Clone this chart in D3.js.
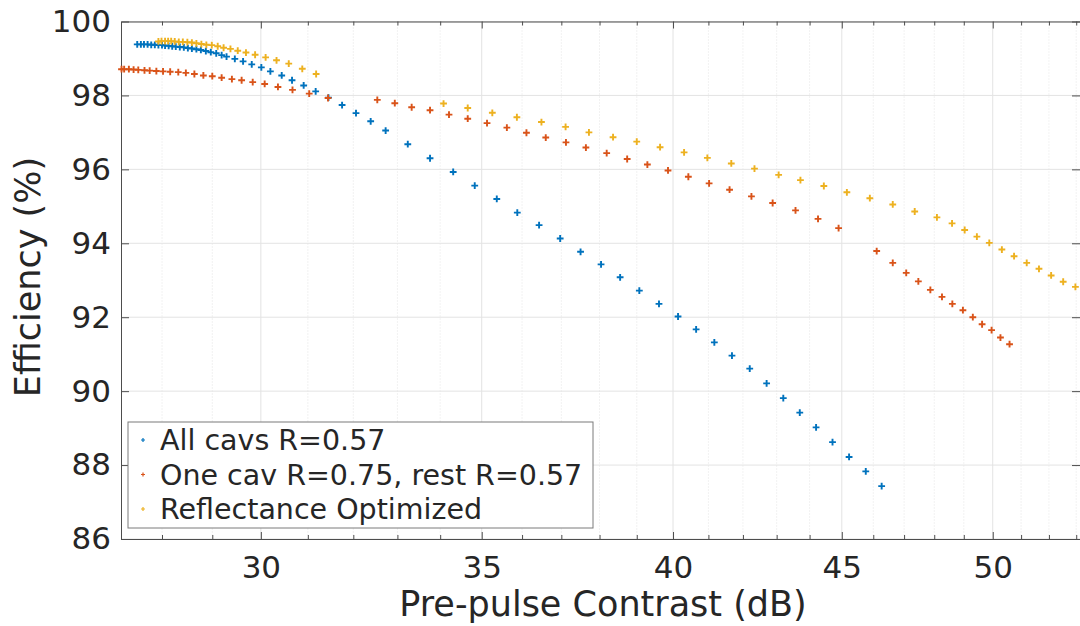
<!DOCTYPE html>
<html>
<head>
<meta charset="utf-8">
<script src="https://cdn.jsdelivr.net/npm/d3@7"></script>
<style>
  body { margin: 0; background: #fff; }
  text { font-family: "DejaVu Sans", sans-serif; fill: #262626; }
</style>
</head>
<body>
<svg id="chart"></svg>
<script>
// values (x in dB, y in %)
const allCavsX = [27.52, 27.59, 27.65, 27.72, 27.79, 27.86, 27.93, 28.00, 28.06, 28.13, 28.20, 28.27, 28.35, 28.43, 28.51, 28.59, 28.68, 28.77, 28.87, 28.97, 29.08, 29.19, 29.29, 29.46, 29.63, 29.81, 30.01, 30.20, 30.44, 30.66, 30.91, 31.17, 31.45, 31.75, 32.06, 32.39, 32.73, 33.24, 33.76, 34.31, 34.83, 35.37, 35.88, 36.43, 36.97, 37.50, 38.04, 38.55, 39.07, 39.61, 40.14, 40.65, 41.17, 41.68, 42.20, 42.70, 43.20, 43.70, 44.20, 44.71, 45.23, 45.76, 46.27];
const allCavsY = [99.38, 99.38, 99.38, 99.38, 99.37, 99.37, 99.36, 99.36, 99.35, 99.34, 99.33, 99.32, 99.31, 99.30, 99.28, 99.27, 99.25, 99.23, 99.20, 99.17, 99.14, 99.09, 99.05, 98.99, 98.92, 98.84, 98.76, 98.65, 98.54, 98.41, 98.27, 98.11, 97.94, 97.74, 97.52, 97.30, 97.05, 96.68, 96.30, 95.93, 95.56, 95.20, 94.83, 94.49, 94.13, 93.77, 93.43, 93.08, 92.72, 92.36, 92.02, 91.67, 91.32, 90.96, 90.61, 90.21, 89.81, 89.42, 89.02, 88.62, 88.22, 87.83, 87.43];

const oneCavX = [27.22, 27.27, 27.36, 27.45, 27.54, 27.66, 27.76, 27.89, 28.02, 28.16, 28.32, 28.47, 28.64, 28.82, 29.00, 29.19, 29.40, 29.60, 29.83, 30.08, 30.36, 30.67, 31.03, 31.44, 32.54, 32.94, 33.33, 33.76, 34.21, 34.66, 35.13, 35.62, 36.11, 36.60, 37.12, 37.64, 38.19, 38.74, 39.29, 39.86, 40.43, 41.02, 41.61, 42.25, 42.88, 43.57, 44.26, 44.90, 46.11, 46.63, 47.07, 47.47, 47.87, 48.26, 48.61, 48.97, 49.31, 49.63, 49.96, 50.27, 50.59];
const oneCavY = [98.71, 98.71, 98.71, 98.70, 98.69, 98.68, 98.67, 98.66, 98.65, 98.64, 98.63, 98.61, 98.58, 98.54, 98.52, 98.48, 98.44, 98.41, 98.36, 98.31, 98.23, 98.15, 98.05, 97.93, 97.88, 97.79, 97.68, 97.60, 97.48, 97.37, 97.25, 97.13, 96.99, 96.86, 96.73, 96.59, 96.44, 96.28, 96.13, 95.97, 95.80, 95.62, 95.45, 95.27, 95.09, 94.89, 94.66, 94.41, 93.79, 93.47, 93.20, 92.97, 92.74, 92.55, 92.36, 92.19, 92.00, 91.81, 91.65, 91.45, 91.27];

const optX = [27.93, 27.99, 28.06, 28.12, 28.18, 28.25, 28.33, 28.41, 28.50, 28.59, 28.68, 28.78, 28.88, 28.99, 29.11, 29.23, 29.37, 29.52, 29.69, 29.88, 30.10, 30.33, 30.59, 30.88, 31.18, 34.08, 34.66, 35.26, 35.87, 36.49, 37.11, 37.72, 38.36, 39.00, 39.64, 40.31, 40.97, 41.66, 42.34, 43.06, 43.72, 44.44, 45.16, 45.89, 46.63, 47.35, 48.09, 48.60, 49.03, 49.45, 49.88, 50.32, 50.75, 51.20, 51.64, 52.08, 52.52, 52.97];
const optY = [99.46, 99.47, 99.47, 99.47, 99.47, 99.46, 99.45, 99.45, 99.44, 99.43, 99.41, 99.39, 99.37, 99.36, 99.33, 99.29, 99.26, 99.21, 99.16, 99.10, 99.03, 98.95, 98.86, 98.72, 98.58, 97.78, 97.66, 97.53, 97.41, 97.28, 97.15, 97.00, 96.87, 96.75, 96.60, 96.46, 96.31, 96.16, 96.02, 95.85, 95.71, 95.55, 95.38, 95.22, 95.05, 94.86, 94.70, 94.54, 94.36, 94.18, 94.01, 93.83, 93.65, 93.47, 93.31, 93.13, 92.96, 92.82];

const seriesNames = ["All cavs R=0.57", "One cav R=0.75, rest R=0.57", "Reflectance Optimized"];
const seriesColors = ["#0072BD", "#D95319", "#EDB120"];

const xMajorTicks = [30, 35, 40, 45, 50];
const xMinorTicks = [28, 29, 31, 32, 33, 34, 36, 37, 38, 39, 41, 42, 43, 44, 46, 47, 48, 49, 51, 52, 53];
const yTicks = [86, 88, 90, 92, 94, 96, 98, 100];

const W = 1080, H = 626;
const plotL = 121, plotR = 1080, plotT = 21.5, plotB = 539;

const svg = d3.select("#chart").attr("width", W).attr("height", H);

const x = d3.scaleLog().domain([27.21, 53.14]).range([plotL, plotR]);
const y = d3.scaleLinear().domain([86, 100]).range([plotB, plotT]);

// grid
svg.append("g").selectAll("line").data(xMinorTicks).join("line")
  .attr("x1", d => x(d)).attr("x2", d => x(d))
  .attr("y1", plotT).attr("y2", plotB)
  .attr("stroke", "#dedede").attr("stroke-width", 0.8)
  .attr("stroke-dasharray", "1,2");

svg.append("g").selectAll("line").data(xMajorTicks).join("line")
  .attr("x1", d => x(d)).attr("x2", d => x(d))
  .attr("y1", plotT).attr("y2", plotB)
  .attr("stroke", "#e3e3e3").attr("stroke-width", 1);

svg.append("g").selectAll("line").data(yTicks).join("line")
  .attr("x1", plotL).attr("x2", plotR)
  .attr("y1", d => y(d)).attr("y2", d => y(d))
  .attr("stroke", "#e3e3e3").attr("stroke-width", 1);

// axes (MATLAB style, ticks inside, box on)
const tickColor = "#4d4d4d";
const xBottom = d3.axisBottom(x).tickValues(xMajorTicks).tickFormat(d3.format("d"))
  .tickSizeInner(-7).tickSizeOuter(0).tickPadding(17);
const gx = svg.append("g").attr("transform", `translate(0,${plotB})`).call(xBottom);
gx.select(".domain").attr("stroke", tickColor);
gx.selectAll(".tick line").attr("stroke", tickColor);
gx.selectAll("text").attr("font-size", 31).attr("fill", "#262626").attr("dy", "0.71em");

const gxMinor = svg.append("g").attr("transform", `translate(0,${plotB})`)
  .call(d3.axisBottom(x).tickValues(xMinorTicks).tickFormat("").tickSizeInner(-4).tickSizeOuter(0));
gxMinor.select(".domain").remove();
gxMinor.selectAll(".tick line").attr("stroke", tickColor);

const gxTop = svg.append("g").attr("transform", `translate(0,${plotT})`)
  .call(d3.axisTop(x).tickValues(xMajorTicks).tickFormat("").tickSizeInner(-7).tickSizeOuter(0));
gxTop.select(".domain").attr("stroke", tickColor);
gxTop.selectAll(".tick line").attr("stroke", tickColor);
const gxTopMinor = svg.append("g").attr("transform", `translate(0,${plotT})`)
  .call(d3.axisTop(x).tickValues(xMinorTicks).tickFormat("").tickSizeInner(-4).tickSizeOuter(0));
gxTopMinor.select(".domain").remove();
gxTopMinor.selectAll(".tick line").attr("stroke", tickColor);

const gy = svg.append("g").attr("transform", `translate(${plotL},0)`)
  .call(d3.axisLeft(y).tickValues(yTicks).tickSizeInner(-8).tickSizeOuter(0).tickPadding(10));
gy.select(".domain").attr("stroke", tickColor);
gy.selectAll(".tick line").attr("stroke", tickColor);
gy.selectAll("text").attr("font-size", 31).attr("fill", "#262626");

const gyRight = svg.append("g").attr("transform", `translate(${plotR},0)`)
  .call(d3.axisRight(y).tickValues(yTicks).tickFormat("").tickSizeInner(-8).tickSizeOuter(0));
gyRight.select(".domain").attr("stroke", tickColor);
gyRight.selectAll(".tick line").attr("stroke", tickColor);

// axis labels
svg.append("text").attr("x", 603).attr("y", 616)
  .attr("text-anchor", "middle").attr("font-size", 35)
  .text("Pre-pulse Contrast (dB)");
svg.append("text").attr("transform", "translate(40,277) rotate(-90)")
  .attr("text-anchor", "middle").attr("font-size", 35)
  .text("Efficiency (%)");

// markers
const plus = s => `M${-s},0H${s}M0,${-s}V${s}`;
const series = [
  { xs: allCavsX, ys: allCavsY },
  { xs: oneCavX, ys: oneCavY },
  { xs: optX, ys: optY }
];
series.forEach((s, i) => {
  svg.append("g").selectAll("path").data(d3.range(s.xs.length)).join("path")
    .attr("transform", k => `translate(${x(s.xs[k])},${y(s.ys[k])})`)
    .attr("d", plus(3.4))
    .attr("fill", "none")
    .attr("stroke", seriesColors[i])
    .attr("stroke-width", 1.9);
});

// legend
const lg = svg.append("g");
lg.append("rect").attr("x", 128).attr("y", 422).attr("width", 465).attr("height", 106)
  .attr("fill", "#fff").attr("stroke", "#7a7a7a").attr("stroke-width", 1);
seriesNames.forEach((name, i) => {
  const cy = 440 + i * 34.5;
  lg.append("path").attr("transform", `translate(143,${cy})`)
    .attr("d", plus(2)).attr("stroke", seriesColors[i]).attr("stroke-width", 1.2).attr("fill", "none");
  lg.append("text").attr("x", 160).attr("y", cy).attr("dy", "0.36em")
    .attr("font-size", 28.5).text(name);
});
</script>
</body>
</html>
